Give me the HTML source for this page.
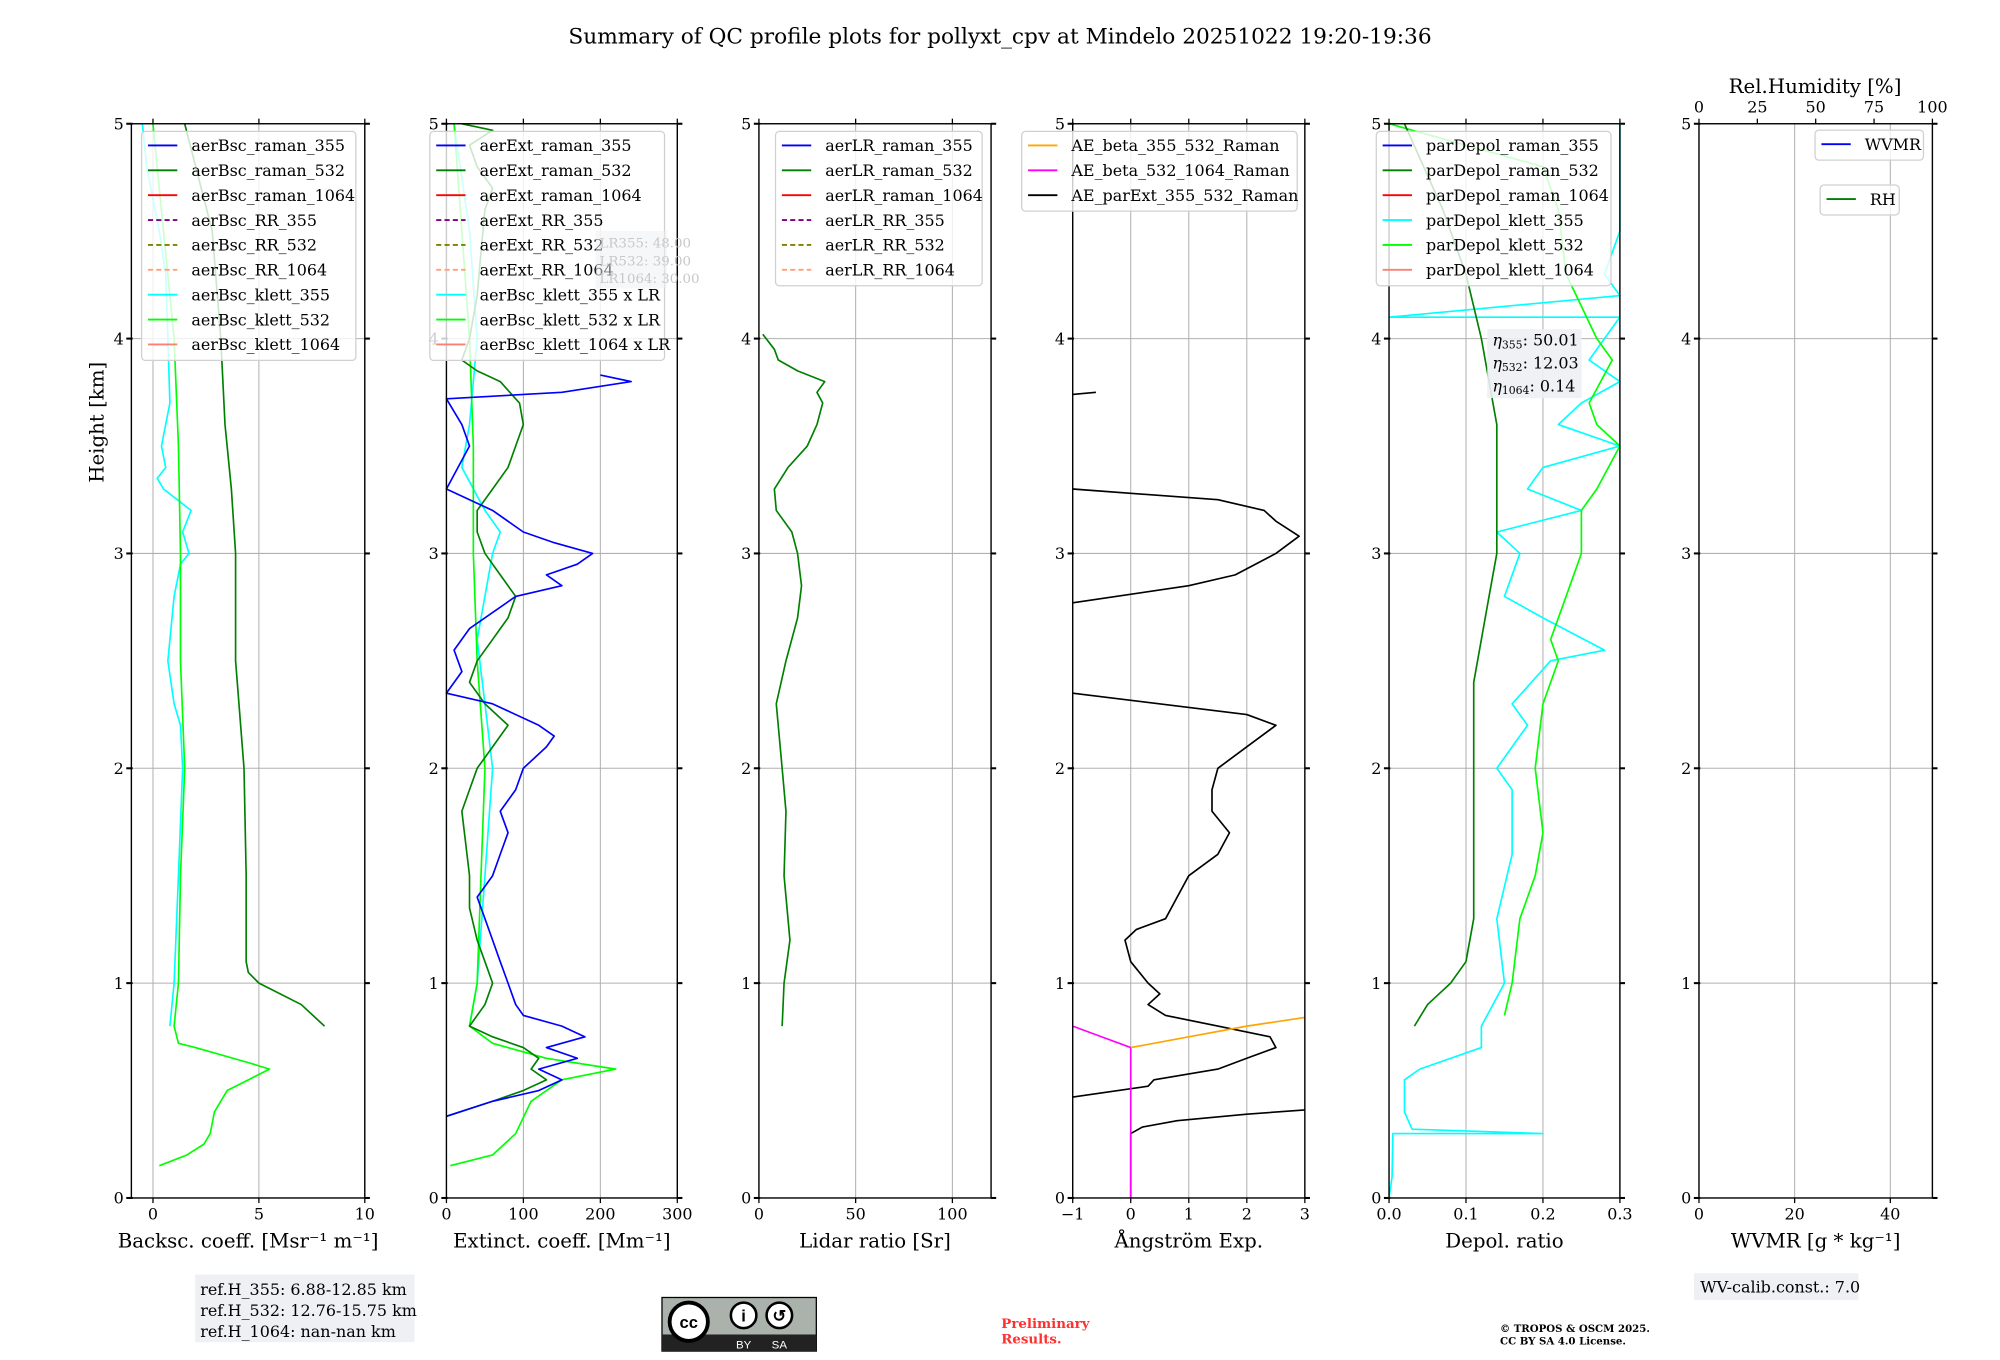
<!DOCTYPE html>
<html><head><meta charset="utf-8">
<style>
html,body{margin:0;padding:0;background:#fff;}
svg{display:block;font-family:"DejaVu Serif","Liberation Serif",serif;}
</style></head>
<body>
<svg id="fig" xmlns="http://www.w3.org/2000/svg" width="2000" height="1360" viewBox="0 0 1568 1066" preserveAspectRatio="none">
<text x="784" y="34" font-size="17" text-anchor="middle">Summary of QC profile plots for pollyxt_cpv at Mindelo 20251022 19:20-19:36</text>
<text transform="translate(81,331) rotate(-90)" font-size="15.5" text-anchor="middle">Height [km]</text>
<g id="panels"></g>
<!-- footer -->
<rect x="153" y="999" width="172" height="53" fill="#eef0f4"/>
<text x="157" y="1015" font-size="12.5">
<tspan x="157">ref.H_355: 6.88-12.85 km</tspan><tspan x="157" dy="16.5">ref.H_532: 12.76-15.75 km</tspan><tspan x="157" dy="16.5">ref.H_1064: nan-nan km</tspan></text>
<g>
<rect x="519" y="1017" width="121" height="42" fill="#aab2ab" stroke="#000" stroke-width="1"/>
<rect x="519" y="1046" width="121" height="13" fill="#222"/>
<circle cx="540" cy="1036" r="15" fill="#fff" stroke="#000" stroke-width="3"/>
<text x="540" y="1041" font-size="13" font-weight="bold" text-anchor="middle" font-family="Liberation Sans,sans-serif">cc</text>
<circle cx="583" cy="1031" r="10" fill="#fff" stroke="#000" stroke-width="2"/>
<circle cx="611" cy="1031" r="10" fill="#fff" stroke="#000" stroke-width="2"/>
<text x="583" y="1036" font-size="13" font-weight="bold" text-anchor="middle" font-family="Liberation Sans,sans-serif">i</text>
<text x="611" y="1036" font-size="13" font-weight="bold" text-anchor="middle" font-family="Liberation Sans,sans-serif">↺</text>
<text x="583" y="1057" font-size="9" fill="#fff" text-anchor="middle" font-family="Liberation Sans,sans-serif">BY</text>
<text x="611" y="1057" font-size="9" fill="#fff" text-anchor="middle" font-family="Liberation Sans,sans-serif">SA</text>
</g>
<text x="785" y="1041" font-size="10.5" font-weight="bold" fill="#ff3030"><tspan x="785">Preliminary</tspan><tspan x="785" dy="12">Results.</tspan></text>
<text x="1176" y="1044" font-size="8" font-weight="bold"><tspan x="1176">© TROPOS &amp; OSCM 2025.</tspan><tspan x="1176" dy="10">CC BY SA 4.0 License.</tspan></text>
<rect x="1328" y="998" width="129" height="21" fill="#eef0f4"/>
<text x="1333" y="1013" font-size="12.5">WV-calib.const.: 7.0</text>
</svg>
<script>
// ---------- data (height km, value) ----------
const bscRaman532H = [0.8,0.9,1.0,1.05,1.1,1.5,2.0,2.5,3.0,3.3,3.6,4.0,4.5,5.0];
const bscRaman532V = [8.1,7.0,5.0,4.5,4.4,4.4,4.3,3.9,3.9,3.7,3.4,3.2,2.8,1.5];
const bscKlett532H = [0.15,0.2,0.25,0.3,0.4,0.5,0.55,0.6,0.63,0.7,0.72,0.8,1.0,1.5,2.0,2.5,3.0,3.5,4.0,4.5,5.0];
const bscKlett532V = [0.3,1.6,2.4,2.7,2.9,3.5,4.5,5.5,4.5,2.0,1.2,1.0,1.2,1.3,1.5,1.3,1.3,1.2,1.0,0.5,0.0];
const bscKlett355H = [0.8,1.0,1.5,2.0,2.2,2.3,2.5,2.8,2.95,3.0,3.1,3.2,3.3,3.35,3.4,3.5,3.7,4.0,4.3,4.5,4.8,5.0];
const bscKlett355V = [0.8,1.0,1.2,1.4,1.3,1.0,0.7,1.0,1.3,1.7,1.4,1.8,0.5,0.2,0.6,0.4,0.8,0.7,0.6,0.3,-0.3,-0.5];

const extRaman355H = [0.38,0.45,0.5,0.55,0.6,0.65,0.7,0.75,0.8,0.85,0.9,1.0,1.1,1.2,1.3,1.4,1.5,1.6,1.7,1.8,1.9,2.0,2.1,2.15,2.2,2.3,2.35,2.45,2.55,2.65,2.8,2.85,2.9,2.95,3.0,3.05,3.1,3.2,3.3,3.5,3.6,3.72,3.75,3.8,3.83];
const extRaman355V = [0,60,120,150,120,170,130,180,150,100,90,80,70,60,50,40,60,70,80,70,90,100,130,140,120,60,0,20,10,30,90,150,130,170,190,140,100,60,0,30,20,0,150,240,200];
const extRaman532H = [0.38,0.45,0.5,0.55,0.6,0.65,0.7,0.75,0.8,0.9,1.0,1.1,1.2,1.35,1.5,1.65,1.8,1.9,2.0,2.1,2.2,2.3,2.4,2.5,2.6,2.7,2.8,2.9,3.0,3.1,3.2,3.3,3.4,3.5,3.6,3.7,3.8,3.85,3.9,4.0,4.2,4.4,4.6,4.7,4.8,4.9,4.97,5.0];
const extRaman532V = [0,60,100,130,110,120,100,60,30,50,60,50,40,30,30,25,20,30,40,60,80,50,30,40,60,80,90,70,50,40,40,60,80,90,100,95,70,40,20,30,40,45,50,60,40,30,60,20];
const extKlett532H = [0.15,0.2,0.3,0.45,0.55,0.6,0.65,0.72,0.8,1.0,1.5,2.0,2.5,3.0,3.5,4.0,4.5,5.0];
const extKlett532V = [5,60,90,110,150,220,130,60,30,40,45,50,40,35,35,30,20,10];
const extKlett355H = [0.8,1.0,1.5,2.0,2.3,2.6,3.0,3.1,3.2,3.4,3.6,4.0,4.5,5.0];
const extKlett355V = [30,40,50,60,50,40,60,70,50,20,30,40,30,10];

const lr532H = [0.8,1.0,1.2,1.5,1.8,2.0,2.3,2.5,2.7,2.85,3.0,3.1,3.2,3.3,3.4,3.5,3.6,3.7,3.75,3.8,3.85,3.9,3.95,4.02];
const lr532V = [12,13,16,13,14,12,9,14,20,22,20,17,9,8,15,25,30,33,30,34,20,10,8,2];

const aeExtSegH = [[0,0.3,0.33,0.36,0.39,0.41],[0.47,0.52,0.55,0.6,0.65,0.7,0.75,0.8,0.85,0.9,0.95,1.0,1.1,1.2,1.25,1.3,1.4,1.5,1.6,1.7,1.8,1.9,2.0,2.1,2.2,2.25,2.35],[2.77,2.85,2.9,3.0,3.08,3.15,3.2,3.25,3.3],[3.74,3.75]];
const aeExtSegV = [[0,0,0.2,0.8,2.0,3.0],[-1,0.3,0.4,1.5,2.0,2.5,2.4,1.5,0.6,0.3,0.5,0.3,0.0,-0.1,0.1,0.6,0.8,1.0,1.5,1.7,1.4,1.4,1.5,2.0,2.5,2.0,-1],[-1,1.0,1.8,2.5,2.9,2.5,2.3,1.5,-1],[-1,-0.6]];
const aeBsc355H = [0.7,0.75,0.8,0.84];
const aeBsc355V = [0,1,2,3];
const aeBsc532H = [0,0.7,0.75,0.8];
const aeBsc532V = [0,0,-0.5,-1];

const dep532H = [0.8,0.9,1.0,1.1,1.3,1.6,2.0,2.4,2.6,2.8,3.0,3.3,3.6,4.0,4.3,4.6,5.0];
const dep532V = [0.033,0.05,0.08,0.1,0.11,0.11,0.11,0.11,0.12,0.13,0.14,0.14,0.14,0.12,0.1,0.07,0.02];
const depK532H = [0.85,1.0,1.3,1.5,1.7,2.0,2.3,2.5,2.6,2.8,3.0,3.2,3.3,3.5,3.6,3.7,3.9,4.0,4.3,4.6,4.8,5.0];
const depK532V = [0.15,0.16,0.17,0.19,0.2,0.19,0.2,0.22,0.21,0.23,0.25,0.25,0.27,0.3,0.27,0.26,0.29,0.27,0.23,0.22,0.2,0.0];
const depK355H = [0,0.1,0.3,0.3,0.32,0.4,0.55,0.6,0.7,0.8,1.0,1.3,1.6,1.9,2.0,2.2,2.3,2.5,2.55,2.7,2.8,3.0,3.1,3.2,3.3,3.4,3.5,3.6,3.7,3.8,3.9,4.0,4.1,4.1,4.2,4.3,4.5,5.0];
const depK355V = [0.0,0.004,0.005,0.2,0.03,0.02,0.02,0.04,0.12,0.12,0.15,0.14,0.16,0.16,0.14,0.18,0.16,0.21,0.28,0.2,0.15,0.17,0.14,0.25,0.18,0.2,0.3,0.22,0.25,0.3,0.26,0.28,0.3,0.0,0.3,0.28,0.3,0.3];

// ---------- tick labels ----------
const yTicks = [0,1,2,3,4,5];
const panelXTicks = [[0,5,10],[0,100,200,300],[0,50,100],[-1,0,1,2,3],[0.0,0.1,0.2,0.3],[0,20,40]];
const panelXTickLabels = [["0","5","10"],["0","100","200","300"],["0","50","100"],["\u22121","0","1","2","3"],["0.0","0.1","0.2","0.3"],["0","20","40"]];
const rhTicks = [0,25,50,75,100];

const NS='http://www.w3.org/2000/svg';
const root=document.getElementById('panels');
const Y0=939, Y5=97;
const yS=h=>Y0+(Y5-Y0)*h/5;
function el(tag,attrs,parent){const e=document.createElementNS(NS,tag);for(const k in attrs)e.setAttribute(k,attrs[k]);(parent||root).appendChild(e);return e;}

const panels=[
 {x0:103,x1:286,vmin:-1.02,vmax:10,label:'Backsc. coeff. [Msr\u207b\u00b9 m\u207b\u00b9]',name:'backscatter'},
 {x0:350,x1:531,vmin:0,vmax:300,label:'Extinct. coeff. [Mm\u207b\u00b9]',name:'extinction'},
 {x0:595,x1:777,vmin:0,vmax:120,label:'Lidar ratio [Sr]',name:'lidar-ratio'},
 {x0:841,x1:1023,vmin:-1,vmax:3,label:'\u00c5ngstr\u00f6m Exp.',name:'angstrom'},
 {x0:1089,x1:1270,vmin:0,vmax:0.3,label:'Depol. ratio',name:'depol'},
 {x0:1332,x1:1515,vmin:0,vmax:48.8,label:'WVMR [g * kg\u207b\u00b9]',name:'wvmr'}
];
panels.forEach((p,i)=>{
  p.xs=v=>p.x0+(p.x1-p.x0)*(v-p.vmin)/(p.vmax-p.vmin);
  const g=el('g',{});
  
  
  p.g=g;
  panelXTicks[i].forEach((t,j)=>{
    const x=p.xs(t);
    el('line',{x1:x,x2:x,y1:Y5,y2:Y0,stroke:'#b0b0b0','stroke-width':0.8},g);
    el('line',{x1:x,x2:x,y1:Y0,y2:Y0+4,stroke:'#000','stroke-width':1},g);
    const tl=el('text',{x:x,y:Y0+17,'font-size':12.5,'text-anchor':'middle'},g);
    
    
    tl.textContent=panelXTickLabels[i][j];
    if(i<5){el('line',{x1:x,x2:x,y1:Y5-4,y2:Y5,stroke:'#000','stroke-width':1},g);}
  });
  yTicks.forEach(h=>{
    const y=yS(h);
    if(h>0&&h<5) el('line',{x1:p.x0,x2:p.x1,y1:y,y2:y,stroke:'#b0b0b0','stroke-width':0.8},g);
    el('line',{x1:p.x0-4,x2:p.x0+1,y1:y,y2:y,stroke:'#000','stroke-width':1.6},g);
    el('line',{x1:p.x1,x2:p.x1+4,y1:y,y2:y,stroke:'#000','stroke-width':1.6},g);
    const tl=el('text',{x:p.x0-6,y:y+4.5,'font-size':12.5,'text-anchor':'end'},g);
    
    
    tl.textContent=String(h);
  });
  const xl=el('text',{x:(p.x0+p.x1)/2,y:Y0+39,'font-size':15.5,'text-anchor':'middle'},g);
  
  
  xl.textContent=p.label;
});
function series(pi,H,V,color,name,w){
  const p=panels[pi];
  const d=H.map((h,k)=>(k?'L':'M')+p.xs(V[k]).toFixed(1)+','+yS(h).toFixed(1)).join('');
  const e=el('path',{d:d,fill:'none',stroke:color,'stroke-width':w||1.3,'stroke-linejoin':'round'},p.g);
  
  
}
series(0,bscKlett355H,bscKlett355V,'#00ffff','line-aerbsc-klett-355');
series(0,bscKlett532H,bscKlett532V,'#00ff00','line-aerbsc-klett-532');
series(0,bscRaman532H,bscRaman532V,'#008000','line-aerbsc-raman-532');
series(1,extKlett355H,extKlett355V,'#00ffff','line-ext-klett-355');
series(1,extKlett532H,extKlett532V,'#00ff00','line-ext-klett-532');
series(1,extRaman532H,extRaman532V,'#008000','line-aerext-raman-532');
series(1,extRaman355H,extRaman355V,'#0000ff','line-aerext-raman-355');
series(2,lr532H,lr532V,'#008000','line-aerlr-raman-532');
aeExtSegH.forEach((H,k)=>series(3,H,aeExtSegV[k],'#000','line-ae-parext-355-532'));
series(3,aeBsc532H,aeBsc532V,'#ff00ff','line-ae-beta-532-1064');
series(3,aeBsc355H,aeBsc355V,'#ffa500','line-ae-beta-355-532');
series(4,depK355H,depK355V,'#00ffff','line-pardepol-klett-355');
series(4,depK532H,depK532V,'#00ff00','line-pardepol-klett-532');
series(4,dep532H,dep532V,'#008000','line-pardepol-raman-532');

panels.forEach(p=>{el('rect',{x:p.x0,y:Y5,width:p.x1-p.x0,height:Y0-Y5,fill:'none',stroke:'#000','stroke-width':1.1},p.g);});

const p6=panels[5];
rhTicks.forEach(t=>{
  const x=p6.x0+(p6.x1-p6.x0)*t/100;
  el('line',{x1:x,x2:x,y1:Y5-4,y2:Y5,stroke:'#000','stroke-width':1},p6.g);
  const tl=el('text',{x:x,y:Y5-9,'font-size':12.5,'text-anchor':'middle'},p6.g);
  
  
  tl.textContent=String(t);
});
const rht=el('text',{x:1423,y:73,'font-size':15.5,'text-anchor':'middle'},p6.g);


rht.textContent='Rel.Humidity [%]';

function legend(x,y,w,entries,name,rowH){
  const g=el('g',{});
  
  
  rowH=rowH||19.5;
  el('rect',{x:x,y:y,width:w,height:entries.length*rowH+4,rx:3,fill:'rgba(255,255,255,0.8)',stroke:'#d0d0d0','stroke-width':1},g);
  entries.forEach((e,k)=>{
    const cy=y+11+k*rowH;
    const ln=el('line',{x1:x+5,x2:x+28,y1:cy,y2:cy,stroke:e[1],'stroke-width':1.5},g);
    if(e[2]) ln.setAttribute('stroke-dasharray','4,2.5');
    const t=el('text',{x:x+39,y:cy+4.5,'font-size':12.5},g);
    
    
    t.textContent=e[0];
  });
}
const cols=[['#0000ff',0],['#008000',0],['#ff0000',0],['#800080',1],['#808000',1],['#ffa07a',1],['#00ffff',0],['#00ff00',0],['#fa8072',0]];
legend(111,103,168,['aerBsc_raman_355','aerBsc_raman_532','aerBsc_raman_1064','aerBsc_RR_355','aerBsc_RR_532','aerBsc_RR_1064','aerBsc_klett_355','aerBsc_klett_532','aerBsc_klett_1064'].map((n,k)=>[n,cols[k][0],cols[k][1]]),'legend-backscatter');
legend(337,103,184,['aerExt_raman_355','aerExt_raman_532','aerExt_raman_1064','aerExt_RR_355','aerExt_RR_532','aerExt_RR_1064','aerBsc_klett_355 x LR','aerBsc_klett_532 x LR','aerBsc_klett_1064 x LR'].map((n,k)=>[n,cols[k][0],cols[k][1]]),'legend-extinction');
legend(608,103,162,['aerLR_raman_355','aerLR_raman_532','aerLR_raman_1064','aerLR_RR_355','aerLR_RR_532','aerLR_RR_1064'].map((n,k)=>[n,cols[k][0],cols[k][1]]),'legend-lidar-ratio');
legend(801,103,216,[['AE_beta_355_532_Raman','#ffa500'],['AE_beta_532_1064_Raman','#ff00ff'],['AE_parExt_355_532_Raman','#000']],'legend-angstrom');
legend(1079,103,184,['parDepol_raman_355','parDepol_raman_532','parDepol_raman_1064','parDepol_klett_355','parDepol_klett_532','parDepol_klett_1064'].map((n,k)=>[n,[cols[0],cols[1],cols[2],cols[6],cols[7],cols[8]][k][0]]),'legend-depol');
legend(1423,102,85,[['WVMR','#0000ff']],'legend-wvmr');
legend(1427,145,62,[['RH','#008000']],'legend-rh');

(function(){
  const g=el('g',{});
  
  
  el('rect',{x:467,y:181,width:56,height:45,fill:'rgba(238,240,244,0.5)'},g);
  ['LR355: 48.00','LR532: 39.00','LR1064: 30.00'].forEach((s,k)=>{
    const t=el('text',{x:470,y:194+k*14,'font-size':10.5,fill:'#c8c8c8'},g);t.textContent=s;});
  const g2=el('g',{});
  
  
  el('rect',{x:1166,y:258,width:74,height:54,fill:'rgba(238,240,244,0.9)'},g2);
  [['355',': 50.01'],['532',': 12.03'],['1064',': 0.14']].forEach((s,k)=>{
    const t=el('text',{x:1170,y:271+k*18,'font-size':12.5},g2);
    const a=el('tspan',{'font-style':'italic'},t);a.textContent='\u03b7';
    const b=el('tspan',{'font-size':8.5,dy:2},t);b.textContent=s[0];
    const c=el('tspan',{dy:-2},t);c.textContent=s[1];
  });
})();
</script>
</body></html>
